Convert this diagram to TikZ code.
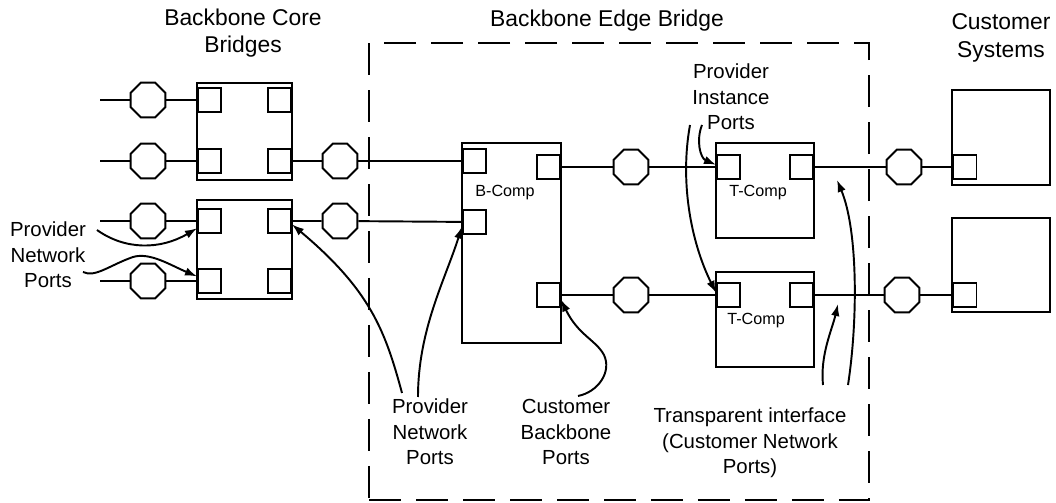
\documentclass[tikz,border=0pt]{standalone}
\usepackage{fontspec}
\setmainfont{Liberation Sans}
\usetikzlibrary{arrows.meta,positioning,shapes.geometric}

\begin{document}
\begin{tikzpicture}[x=0.02cm,y=-0.02cm,>={Latex[length=2.4mm,width=1.7mm]},
  bridge/.style={draw,line width=1.1pt,inner sep=0pt},
  port/.style={draw,fill=white,line width=1.1pt,minimum size=0.47cm,inner sep=0pt},
  relay/.style={regular polygon,regular polygon sides=8,draw,fill=white,
    line width=1.1pt,minimum size=0.75cm,inner sep=0pt},
  link/.style={line width=1.1pt},
  pointer/.style={->,line width=1.1pt},
  title/.style={font=\fontsize{13}{15.5}\selectfont},
  compname/.style={font=\fontsize{9.2}{11}\selectfont},
  every node/.style={font=\fontsize{11.6}{14.6}\selectfont,align=center}]
  \useasboundingbox (0,0) rectangle (1056,503);
  % the edge bridge outline
  \node[draw,line width=1.3pt,dash pattern=on 0.64cm off 0.3cm,
    minimum width=10cm,minimum height=9.14cm,inner sep=0pt] (beb) at (619,271.5) {};
  \node[title] (coret) at (243,33) {Backbone Core\\Bridges};
  \node[title] (edget) at (607,21) {Backbone Edge Bridge};
  \node[title] (custt) at (1001,38) {Customer\\Systems};
  % core bridges
  \node[bridge,minimum width=1.9cm,minimum height=1.94cm] (core1) at (244.5,131.5) {};
  \node[bridge,minimum width=1.9cm,minimum height=1.98cm] (core2) at (244.5,249.5) {};
  \node[port,anchor=west] (c1nw) at (197,100) {};
  \node[port,anchor=east] (c1ne) at (292,100) {};
  \node[port,anchor=west] (c1sw) at (197,161) {};
  \node[port,anchor=east] (c1se) at (292,161) {};
  \node[port,anchor=west] (c2nw) at (197,221) {};
  \node[port,anchor=east] (c2ne) at (292,221) {};
  \node[port,anchor=west] (c2sw) at (197,281) {};
  \node[port,anchor=east] (c2se) at (292,281) {};
  \foreach \n/\yy in {1/100,2/161,3/221,4/281}{
    \coordinate (in\n) at (100,\yy);
    \node[relay] (r\n) at (148,\yy) {};
  }
  \node[relay] (r5) at (340,161) {};
  \node[relay] (r6) at (340,221) {};
  % B-component
  \node[bridge,minimum width=1.98cm,minimum height=4cm] (bcomp) at (511.5,243) {};
  \node[compname] (blabel) at (505,193) {B-Comp};
  \node[port,anchor=west] (bnw) at (462,161) {};
  \node[port,anchor=west] (bsw) at (462,222) {};
  \node[port,anchor=east] (bne) at (561,167) {};
  \node[port,anchor=east] (bse) at (561,295) {};
  \node[relay] (r7) at (631,167) {};
  \node[relay] (r8) at (631,295) {};
  % T-components
  \node[bridge,minimum width=1.96cm,minimum height=1.9cm] (tcomp1) at (765,190.5) {};
  \node[bridge,minimum width=1.96cm,minimum height=1.9cm] (tcomp2) at (765,319.5) {};
  \node[compname] (tlabel1) at (758,193) {T-Comp};
  \node[compname] (tlabel2) at (756,321) {T-Comp};
  \node[port,anchor=west] (t1w) at (716,167) {};
  \node[port,anchor=east] (t1e) at (814,167) {};
  \node[port,anchor=west] (t2w) at (716,295) {};
  \node[port,anchor=east] (t2e) at (814,295) {};
  \node[relay] (r9) at (904,167) {};
  \node[relay] (r10) at (902,295) {};
  % customer systems
  \node[bridge,minimum width=1.96cm,minimum height=1.9cm] (cust1) at (1001,137.5) {};
  \node[bridge,minimum width=1.96cm,minimum height=1.88cm] (cust2) at (1001,265) {};
  \node[port,anchor=west] (s1p) at (952,167) {};
  \node[port,anchor=west] (s2p) at (952,295) {};
  \draw[link] (in1) -- (r1) -- (c1nw);
  \draw[link] (in2) -- (r2) -- (c1sw);
  \draw[link] (in3) -- (r3) -- (c2nw);
  \draw[link] (in4) -- (r4) -- (c2sw);
  \draw[link] (c1se) -- (r5) -- (bnw);
  \draw[link] (c2ne) -- (r6) -- (bsw);
  \draw[link] (bne) -- (r7) -- (t1w);
  \draw[link] (bse) -- (r8) -- (t2w);
  \draw[link] (t1e) -- (r9) -- (s1p);
  \draw[link] (t2e) -- (r10) -- (s2p);
  % labels
  \node (pnpl) at (48,255) {Provider\\Network\\Ports};
  \node (pip) at (731,97) {Provider\\Instance\\Ports};
  \node (pnpb) at (430,432) {Provider\\Network\\Ports};
  \node (cbp) at (566,432) {Customer\\Backbone\\Ports};
  \node (tif) at (750,443) {Transparent interface\\(Customer Network\\Ports)};
  \coordinate (pn1) at (97,230);
  \coordinate (pn2) at (83,272);
  \coordinate (pn3) at (402,393);
  \coordinate (pn4) at (418,397);
  \coordinate (cb1) at (578,396);
  \coordinate (pi1) at (690,125);
  \coordinate (pi2) at (702,125);
  \coordinate (ti1) at (823,385);
  \coordinate (ti2) at (848,385);
  \coordinate (ti1tip) at (838,304);
  \coordinate (ti2tip) at (837,180);
  \draw[pointer] (pn1) .. controls (125,250) and (160,250) .. (c2nw.210);
  \draw[pointer] (pn2) .. controls (95,278) and (110,265) .. (133,257)
    .. controls (150,252) and (170,265) .. (c2sw.160);
  \draw[pointer] (pn3) .. controls (385,330) and (370,290) .. (c2ne.-15);
  \draw[pointer] (pn4) .. controls (418,330) and (445,280) .. (bsw.200);
  \draw[pointer] (cb1) .. controls (598,392) and (612,372) .. (604,355)
    .. controls (596,340) and (578,335) .. (bse.-20);
  \draw[pointer] (pi1) .. controls (680,180) and (690,240) .. (t2w.170);
  \draw[pointer] (pi2) .. controls (696,140) and (700,158) .. (t1w.170);
  \draw[pointer] (ti1) .. controls (820,355) and (832,330) .. (ti1tip);
  \draw[pointer] (ti2) .. controls (858,320) and (858,230) .. (ti2tip);
\end{tikzpicture}
\end{document}
